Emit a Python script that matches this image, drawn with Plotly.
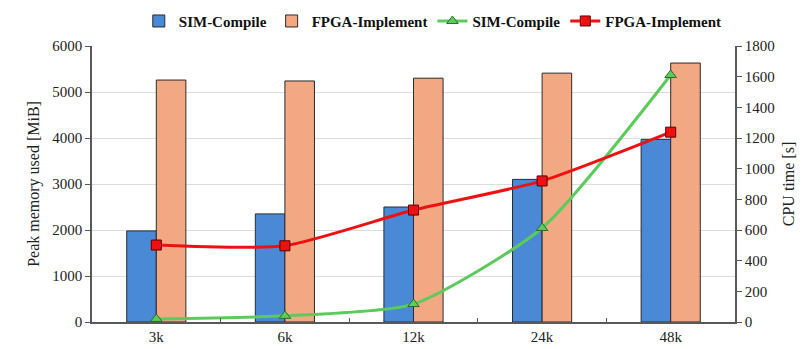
import plotly.graph_objects as go

# Design sizes and measured results
categories = ["3k", "6k", "12k", "24k", "48k"]
mem_sim = [1980, 2350, 2500, 3100, 3970]        # MiB
mem_fpga = [5260, 5240, 5300, 5410, 5630]       # MiB
cpu_sim = [20, 40, 117, 613, 1611]              # s
cpu_fpga = [502, 497, 730, 920, 1238]           # s

left_ticks = [0, 1000, 2000, 3000, 4000, 5000, 6000]
right_ticks = [0, 200, 400, 600, 800, 1000, 1200, 1400, 1600, 1800]

FONT = "Times New Roman, Liberation Serif, DejaVu Serif, serif"
AXIS_COLOR = "#595959"

fig = go.Figure()
fig.add_trace(go.Bar(
    x=categories, y=mem_sim, name="SIM-Compile",
    marker=dict(color="#4A89D6", line=dict(color="#2b2b2b", width=1)),
    offsetgroup="a", yaxis="y"))
fig.add_trace(go.Bar(
    x=categories, y=mem_fpga, name="FPGA-Implement",
    marker=dict(color="#F1A883", line=dict(color="#2b2b2b", width=1)),
    offsetgroup="b", yaxis="y"))
fig.add_trace(go.Scatter(
    x=categories, y=cpu_sim, name="SIM-Compile", mode="lines+markers",
    line=dict(color="#5CCB5C", width=3, shape="spline", smoothing=0.6),
    marker=dict(symbol="triangle-up", size=10, color="#5CCB5C",
                line=dict(color="#2d6b2d", width=1)),
    yaxis="y2"))
fig.add_trace(go.Scatter(
    x=categories, y=cpu_fpga, name="FPGA-Implement", mode="lines+markers",
    line=dict(color="#F01010", width=3, shape="spline", smoothing=0.6),
    marker=dict(symbol="square", size=10, color="#F01010",
                line=dict(color="#5a0000", width=1)),
    yaxis="y2"))

fig.update_layout(
    width=808, height=349,
    margin=dict(l=92, r=73, t=46, b=27, autoexpand=False),
    paper_bgcolor="white", plot_bgcolor="white",
    font=dict(family=FONT, size=14, color="#222"),
    barmode="group", bargap=0.54, bargroupgap=0,
    showlegend=True,
    legend=dict(orientation="h", x=0.53, xanchor="center", y=1.03, yanchor="bottom",
                font=dict(family=FONT, size=15, color="#111", weight="bold"),
                itemwidth=30, tracegroupgap=0, bgcolor="rgba(0,0,0,0)",
                traceorder="normal"),
    xaxis=dict(
        type="category", showline=True, linecolor=AXIS_COLOR, linewidth=1.5,
        ticks="inside", ticklen=4, tickcolor=AXIS_COLOR, tickson="boundaries",
        showgrid=False, tickfont=dict(family=FONT, size=15, color="#222"),
        automargin=False),
    yaxis=dict(
        range=[0, 6000], tickvals=left_ticks, showline=True, linecolor=AXIS_COLOR,
        linewidth=1.5, ticks="outside", ticklen=5, tickcolor=AXIS_COLOR,
        showgrid=True, gridcolor="#dcdcdc", gridwidth=1, zeroline=False,
        tickfont=dict(family=FONT, size=15, color="#222"), automargin=False,
        title=dict(text="Peak memory used [MiB]", font=dict(family=FONT, size=16, color="#222"),
                   standoff=9)),
    yaxis2=dict(
        range=[0, 1800], tickvals=right_ticks, overlaying="y", side="right",
        showline=True, linecolor=AXIS_COLOR, linewidth=1.5, ticks="outside",
        ticklen=5, tickcolor=AXIS_COLOR, showgrid=False, zeroline=False,
        tickfont=dict(family=FONT, size=15, color="#222"), automargin=False,
        title=dict(text="CPU time [s]", font=dict(family=FONT, size=16, color="#222"),
                   standoff=9)),
)

fig.write_html("out.html")
